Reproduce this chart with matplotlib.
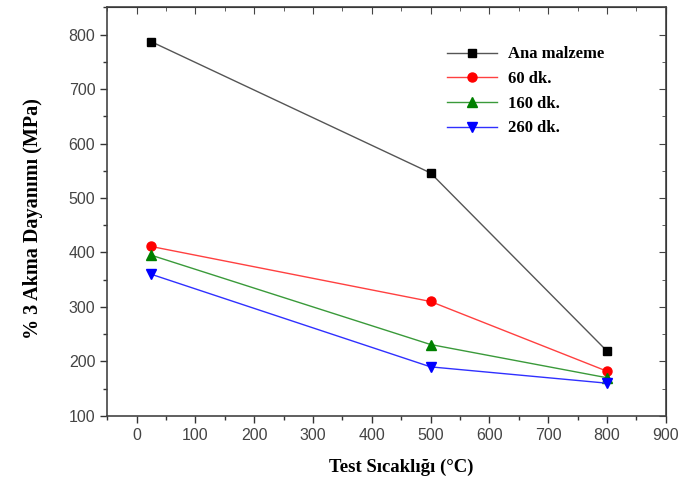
import matplotlib
matplotlib.use("Agg")
import matplotlib.pyplot as plt
from matplotlib.ticker import MultipleLocator

temps = [25, 500, 800]
ana = [787, 546, 219]
dk60 = [411, 310, 182]
dk160 = [395, 231, 170]
dk260 = [360, 190, 160]
labels = ["Ana malzeme", "60 dk.", "160 dk.", "260 dk."]

fig = plt.figure(figsize=(6.78, 4.91), dpi=100)
ax = fig.add_axes([0.158, 0.153, 0.824, 0.832])

ax.plot(temps, ana, color="#555555", lw=1, marker="s", ms=6, mfc="black", mec="black", label=labels[0])
ax.plot(temps, dk60, color="#ff4040", lw=1, marker="o", ms=6.5, mfc="red", mec="red", label=labels[1])
ax.plot(temps, dk160, color="#3a9a3a", lw=1, marker="^", ms=7, mfc="green", mec="green", label=labels[2])
ax.plot(temps, dk260, color="#3030ff", lw=1, marker="v", ms=7, mfc="blue", mec="blue", label=labels[3])

ax.set_xlim(-50, 900)
ax.set_ylim(100, 850)
ax.xaxis.set_major_locator(MultipleLocator(100))
ax.xaxis.set_minor_locator(MultipleLocator(50))
ax.yaxis.set_minor_locator(MultipleLocator(50))
ax.set_yticks(range(100, 801, 100))
ax.tick_params(which="major", direction="out", length=5, width=1, labelsize=11.5, colors="#333333")
ax.tick_params(which="minor", direction="out", length=3, width=1, colors="#333333")
for lab in ax.get_xticklabels() + ax.get_yticklabels():
    lab.set_family("Liberation Sans")
    lab.set_color("#444444")
for s in ax.spines.values():
    s.set_linewidth(1.2)
    s.set_color("#444444")

secx = ax.secondary_xaxis("top")
secx.xaxis.set_major_locator(MultipleLocator(100))
secx.xaxis.set_minor_locator(MultipleLocator(50))
secx.tick_params(which="major", direction="in", length=5, labeltop=False, colors="#444444")
secx.tick_params(which="minor", direction="in", length=3, colors="#444444")
secy = ax.secondary_yaxis("right")
secy.yaxis.set_major_locator(MultipleLocator(100))
secy.yaxis.set_minor_locator(MultipleLocator(50))
secy.tick_params(which="major", direction="in", length=5, labelright=False, colors="#444444")
secy.tick_params(which="minor", direction="in", length=3, colors="#444444")

ax.set_xlabel("Test Sıcaklığı (°C)", family="Liberation Serif", fontweight="bold", fontsize=13.5)
ax.set_ylabel("% 3 Akma Dayanımı (MPa)", family="Liberation Serif", fontweight="bold", fontsize=14.5)
ax.xaxis.set_label_coords(0.526, -0.105)
ax.yaxis.set_label_coords(-0.114, 0.482)

leg = ax.legend(loc="upper left", bbox_to_anchor=(0.594, 0.925), frameon=False, borderpad=0,
                prop={"family": "Liberation Serif", "weight": "bold", "size": 12},
                handlelength=3.0, labelspacing=0.52, handletextpad=0.65)

fig.savefig("out.png", dpi=100)
